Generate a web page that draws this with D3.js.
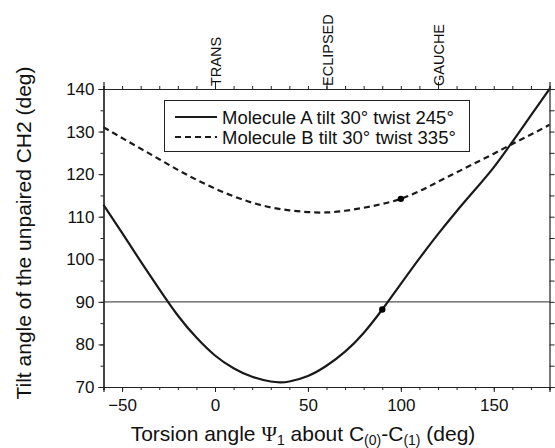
<!DOCTYPE html>
<html><head><meta charset="utf-8">
<script src="https://cdn.jsdelivr.net/npm/d3@7"></script>
<style>body{margin:0;background:#fff}svg{display:block}text{font-family:"Liberation Sans",Arial,sans-serif;fill:#111}</style>
</head><body><svg id="c" width="555" height="448"></svg>
<script>
const anglesA = [-60,-50,-40,-30,-20,-10,0,10,20,30,35,40,50,60,70,80,90,100,110,120,130,140,150,160,170,180];
const tiltA   = [112.8,106.2,99.5,93.0,86.8,81.6,77.4,74.4,72.4,71.3,71.1,71.3,72.6,75.0,78.3,82.7,88.2,94.2,100.2,105.9,111.3,116.4,121.6,127.6,133.8,140.0];
const anglesB = [-60,-50,-40,-30,-20,-10,0,10,20,30,40,50,60,70,80,90,100,110,120,130,140,150,160,170,180];
const tiltB   = [131.0,128.5,126.0,123.5,121.0,118.7,116.6,114.8,113.3,112.2,111.5,111.1,111.0,111.4,112.1,113.0,114.2,116.0,118.2,120.4,122.6,124.8,127.1,129.3,131.6];
const markerAngles = [90,100];
const markerTilts  = [88.2,114.2];
const xTicks = [-50,0,50,100,150];
const yTicks = [70,80,90,100,110,120,130,140];
const conformers = ["TRANS","ECLIPSED","GAUCHE"];
const conformerAngles = [0,60,120];
const legendLabels = ["Molecule A tilt 30° twist 245°","Molecule B tilt 30° twist 335°"];
const refLine = 90;

const svg = d3.select("#c");
const x = d3.scaleLinear().domain([-60,180]).range([103.5,549.5]);
const y = d3.scaleLinear().domain([70,140]).range([387,89]);
const dark = "#222";

// reference line
svg.append("line").attr("x1",x(-60)).attr("x2",x(180)).attr("y1",y(refLine)).attr("y2",y(refLine))
  .attr("stroke","#555").attr("stroke-width",1.2);

// curves
const line = d3.line().x(d=>x(d[0])).y(d=>y(d[1])).curve(d3.curveNatural);
svg.append("path").datum(anglesA.map((a,i)=>[a,tiltA[i]])).attr("d",line)
  .attr("fill","none").attr("stroke","#1a1a1a").attr("stroke-width",2.2);
svg.append("path").datum(anglesB.map((a,i)=>[a,tiltB[i]])).attr("d",line)
  .attr("fill","none").attr("stroke","#1a1a1a").attr("stroke-width",2.2).attr("stroke-dasharray","6,4");

// markers
svg.selectAll("circle.m").data(markerAngles).enter().append("circle")
  .attr("cx",d=>x(d)).attr("cy",(d,i)=>y(markerTilts[i])).attr("r",3.2).attr("fill","#000");

// axes
const minorX = d3.range(-60,181,10);
const minorY = d3.range(70,141,5);
const gB = svg.append("g").attr("transform",`translate(0,${y(70)})`);
gB.call(d3.axisBottom(x).tickValues(minorX).tickSize(3).tickFormat(""));
gB.append("g").call(d3.axisBottom(x).tickValues(xTicks).tickSize(5).tickPadding(7).tickFormat(d3.format("d")));
const gL = svg.append("g").attr("transform",`translate(${x(-60)},0)`);
gL.call(d3.axisLeft(y).tickValues(minorY).tickSize(3).tickFormat(""));
gL.append("g").call(d3.axisLeft(y).tickValues(yTicks).tickSize(5).tickPadding(4).tickFormat(d3.format("d")));
const gT = svg.append("g").attr("transform",`translate(0,${y(140)})`);
gT.call(d3.axisTop(x).tickValues(minorX).tickSize(3).tickFormat(""));
gT.append("g").call(d3.axisTop(x).tickValues(conformerAngles).tickSize(7).tickFormat(""));
const gR = svg.append("g").attr("transform",`translate(${x(180)},0)`);
gR.call(d3.axisRight(y).tickValues(minorY).tickSize(5).tickFormat(""));
svg.selectAll(".domain").attr("stroke",dark).attr("stroke-width",1.2);
svg.selectAll(".tick line").attr("stroke",dark).attr("stroke-width",1);
svg.selectAll(".tick text").attr("font-size",17).attr("fill","#111").attr("font-family","Liberation Sans, Arial, sans-serif");

// conformer labels
svg.selectAll("text.conf").data(conformers).enter().append("text").attr("class","conf")
  .attr("transform",(d,i)=>`translate(${x(conformerAngles[i])+6},${y(140)-3}) rotate(-90)`)
  .attr("font-size",14.5).text(d=>d);

// legend
const lg = svg.append("g");
lg.append("rect").attr("x",164.5).attr("y",100.5).attr("width",305).attr("height",51)
  .attr("fill","#fff").attr("stroke",dark).attr("stroke-width",1);
legendLabels.forEach((t,i)=>{
  const yy = 117 + i*20;
  lg.append("line").attr("x1",175).attr("x2",217).attr("y1",yy).attr("y2",yy)
    .attr("stroke","#1a1a1a").attr("stroke-width",2.2).attr("stroke-dasharray",i?"6,4":null);
  lg.append("text").attr("x",222).attr("y",yy+6.5).attr("font-size",18.5).text(t);
});

// axis titles
const xt = svg.append("text").attr("x",303).attr("y",441).attr("text-anchor","middle").attr("font-size",21);
xt.append("tspan").text("Torsion angle ");
xt.append("tspan").attr("font-family","Liberation Serif, Times New Roman, serif").text("Ψ");
xt.append("tspan").attr("font-size",14).attr("dy",4).text("1");
xt.append("tspan").attr("dy",-4).text(" about C");
xt.append("tspan").attr("font-size",14).attr("dy",4).text("(0)");
xt.append("tspan").attr("dy",-4).text("-C");
xt.append("tspan").attr("font-size",14).attr("dy",4).text("(1)");
xt.append("tspan").attr("dy",-4).text(" (deg)");

svg.append("text").attr("transform","translate(31,233) rotate(-90)").attr("text-anchor","middle")
  .attr("font-size",21).text("Tilt angle of the unpaired CH2 (deg)");
</script></body></html>
